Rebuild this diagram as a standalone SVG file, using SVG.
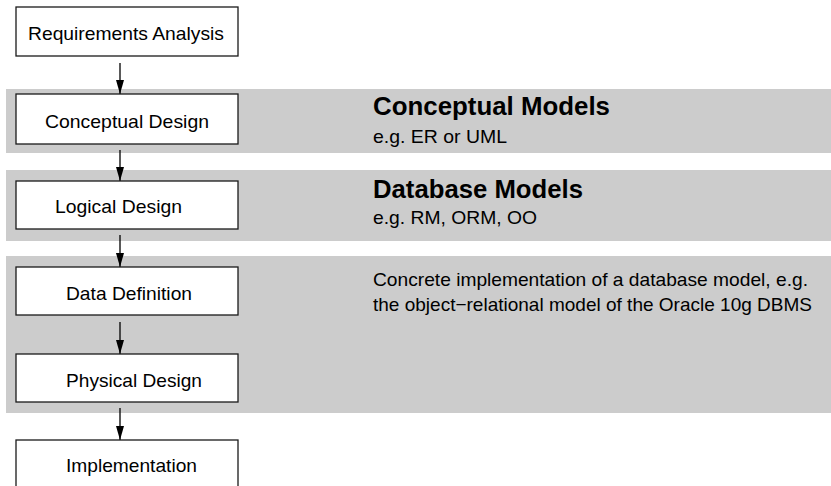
<svg xmlns="http://www.w3.org/2000/svg" width="831" height="486" viewBox="0 0 831 486">
  <defs>
    <style>
      .band { fill: #cccccc; }
      .box { fill: #ffffff; stroke: #1a1a1a; stroke-width: 1.3; }
      .lbl { font-family: "Liberation Sans", Arial, Helvetica, sans-serif; font-size: 19px; fill: #000; }
      .title { font-family: "Liberation Sans", Arial, Helvetica, sans-serif; font-size: 26px; font-weight: bold; fill: #000; }
      .conn { stroke: #000; stroke-width: 1.3; fill: none; marker-end: url(#arr); }
    </style>
    <marker id="arr" markerWidth="14" markerHeight="8" refX="14" refY="4" orient="auto" markerUnits="userSpaceOnUse" viewBox="0 0 14 8">
      <path d="M0,0 L14,4 L0,8 Z" fill="#000"/>
    </marker>
  </defs>
  <rect width="831" height="486" fill="#ffffff"/>

  <g id="bands">
    <rect class="band" x="6" y="89" width="825" height="64"/>
    <rect class="band" x="6" y="170" width="825" height="71"/>
    <rect class="band" x="6" y="256" width="825" height="157"/>
  </g>

  <g id="band-texts">
    <text class="title" x="373" y="115" textLength="237" lengthAdjust="spacingAndGlyphs">Conceptual Models</text>
    <text class="lbl" x="373" y="143" textLength="134" lengthAdjust="spacingAndGlyphs">e.g. ER or UML</text>
    <text class="title" x="373" y="198" textLength="210" lengthAdjust="spacingAndGlyphs">Database Models</text>
    <text class="lbl" x="373" y="224" textLength="164" lengthAdjust="spacingAndGlyphs">e.g. RM, ORM, OO</text>
    <text class="lbl" x="373" y="286" textLength="435" lengthAdjust="spacingAndGlyphs">Concrete implementation of a database model, e.g.</text>
    <text class="lbl" x="373" y="311" textLength="439" lengthAdjust="spacingAndGlyphs">the object−relational model of the Oracle 10g DBMS</text>
  </g>

  <g id="connectors">
    <line class="conn" x1="120" y1="63" x2="120" y2="94"/>
    <line class="conn" x1="120" y1="150" x2="120" y2="181"/>
    <line class="conn" x1="120" y1="235" x2="120" y2="267"/>
    <line class="conn" x1="120" y1="322" x2="120" y2="354"/>
    <line class="conn" x1="120" y1="408" x2="120" y2="440"/>
  </g>

  <g id="requirements-analysis">
    <rect class="box" x="16" y="7" width="222" height="49"/>
    <text class="lbl" x="28" y="40" textLength="196" lengthAdjust="spacingAndGlyphs">Requirements Analysis</text>
  </g>
  <g id="conceptual-design">
    <rect class="box" x="16" y="94" width="222" height="50"/>
    <text class="lbl" x="45" y="128" textLength="164" lengthAdjust="spacingAndGlyphs">Conceptual Design</text>
  </g>
  <g id="logical-design">
    <rect class="box" x="16" y="181" width="222" height="48"/>
    <text class="lbl" x="55" y="213" textLength="127" lengthAdjust="spacingAndGlyphs">Logical Design</text>
  </g>
  <g id="data-definition">
    <rect class="box" x="16" y="267" width="222" height="48"/>
    <text class="lbl" x="66" y="300" textLength="126" lengthAdjust="spacingAndGlyphs">Data Definition</text>
  </g>
  <g id="physical-design">
    <rect class="box" x="16" y="354" width="222" height="48"/>
    <text class="lbl" x="66" y="387" textLength="136" lengthAdjust="spacingAndGlyphs">Physical Design</text>
  </g>
  <g id="implementation">
    <rect class="box" x="16" y="440" width="222" height="60"/>
    <text class="lbl" x="66" y="472" textLength="131" lengthAdjust="spacingAndGlyphs">Implementation</text>
  </g>
</svg>
